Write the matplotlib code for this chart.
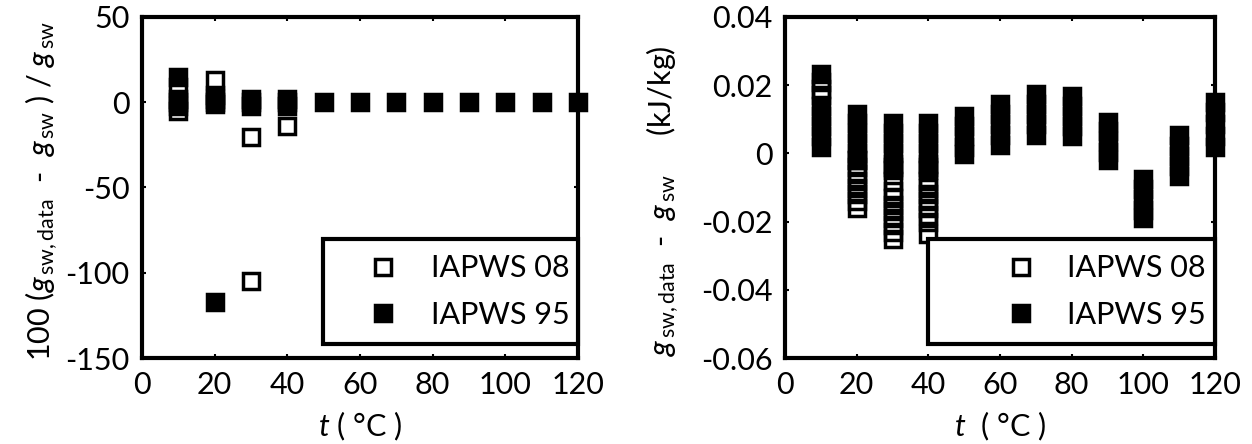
import matplotlib
matplotlib.use("Agg")
import matplotlib.pyplot as plt
import numpy as np

plt.rcParams['font.family'] = ['Lato', 'DejaVu Sans']
plt.rcParams['mathtext.fontset'] = 'custom'
plt.rcParams['mathtext.it'] = 'Lato:italic'
plt.rcParams['mathtext.rm'] = 'Lato'
plt.rcParams['axes.unicode_minus'] = False

# ---------------- data: left panel (percent deviation) ----------------
t08_left = [10, 10, 20, 20, 30, 30, 40]
v08_left = [9, -5, 13, 4, -20.5, -105, -14]
t95_left = [10, 10, 10, 10, 20, 20, 20, 20, 30, 30, 30, 40, 40, 40,
            50, 60, 70, 80, 90, 100, 110, 120]
v95_left = [15, 2, 0, -2, 2, 0, -1, -117, 2, 0, -2, 2, 0, -2,
            0, 0, 0, 0, 0, 0, 0, 0]

# ---------------- data: right panel (absolute deviation, kJ/kg) ----------------
t08_right = [10, 10, 10,
             20, 20, 20, 20, 20, 20, 20, 20,
             30, 30, 30, 30, 30, 30, 30, 30, 30, 30,
             40, 40, 40, 40, 40, 40, 40, 40, 40]
v08_right = [0.021, 0.019, 0.017,
             -0.002, -0.004, -0.006, -0.008, -0.010, -0.012, -0.014, -0.016,
             -0.004, -0.008, -0.011, -0.013, -0.015, -0.017, -0.019, -0.021, -0.023, -0.025,
             -0.004, -0.008, -0.010, -0.012, -0.014, -0.016, -0.018, -0.020, -0.0235]
t95_right = [10, 10, 10, 10, 10, 10,
             20, 20, 20, 20, 20, 20,
             30, 30, 30, 30, 30, 30,
             40, 40, 40, 40, 40, 40,
             50, 50, 50, 50, 50,
             60, 60, 60, 60, 60,
             70, 70, 70, 70, 70,
             80, 80, 80, 80, 80,
             90, 90, 90, 90, 90,
             100, 100, 100, 100, 100,
             110, 110, 110, 110, 110,
             120, 120, 120, 120, 120]
v95_right = [0.0234, 0.014, 0.011, 0.008, 0.005, 0.002,
             0.0117, 0.009, 0.006, 0.003, 0.0, -0.002,
             0.0088, 0.006, 0.003, 0.0, -0.003, -0.005,
             0.0088, 0.006, 0.003, 0.0, -0.003, -0.005,
             0.011, 0.008, 0.005, 0.002, -0.0003,
             0.0146, 0.0115, 0.0085, 0.0055, 0.0026,
             0.0175, 0.0145, 0.0115, 0.0085, 0.0055,
             0.0169, 0.014, 0.011, 0.008, 0.005,
             0.0093, 0.0065, 0.0035, 0.0005, -0.002,
             -0.0076, -0.0105, -0.0135, -0.0165, -0.019,
             0.0053, 0.0023, -0.0007, -0.0037, -0.0067,
             0.0152, 0.012, 0.0085, 0.005, 0.002]

xticks = [0, 20, 40, 60, 80, 100, 120]
yticks_left = [-150, -100, -50, 0, 50]
yticks_right = [-0.06, -0.04, -0.02, 0, 0.02, 0.04]
yticklabels_right = ['-0.06', '-0.04', '-0.02', '0', '0.02', '0.04']
labels = ['IAPWS 08', 'IAPWS 95']

W, H = 1252, 444
fig = plt.figure(figsize=(W / 100, H / 100), dpi=100)

ax1 = fig.add_axes([142 / W, (H - 358) / H, 436 / W, 341 / H])
ax2 = fig.add_axes([785 / W, (H - 358) / H, 430 / W, 341 / H])

MS = 11.5
MEW = 2.5
FS = 22

def style(ax):
    for s in ax.spines.values():
        s.set_linewidth(3.0)
    ax.tick_params(direction='in', length=3, width=1.5, top=True, right=True,
                   labelsize=FS, pad=9)
    ax.set_xlim(0, 120)
    ax.set_xticks(xticks)

def draw(ax, t95, v95, t08, v08, legend_x, handlelen, htp):
    h95, = ax.plot(t95, v95, linestyle='none', marker='s', ms=MS, mew=MEW,
                   mfc='black', mec='black', clip_on=False, zorder=3)
    h08, = ax.plot(t08, v08, linestyle='none', marker='s', ms=MS, mew=MEW,
                   mfc='none', mec='black', clip_on=False, zorder=4)
    leg = ax.legend([h08, h95], labels, loc='lower left',
                    bbox_to_anchor=(legend_x, 0.041, 1 - legend_x, 0.308),
                    mode='expand', borderaxespad=0, fontsize=FS, fancybox=False,
                    framealpha=1, edgecolor='black', handlelength=handlelen,
                    handletextpad=htp, borderpad=0.5, labelspacing=0.6,
                    numpoints=1)
    leg.get_frame().set_linewidth(3.0)
    leg.set_zorder(5)

style(ax1)
draw(ax1, t95_left, v95_left, t08_left, v08_left, 0.415, 2.9, 0.15)
ax1.set_ylim(-150, 50)
ax1.set_yticks(yticks_left)
ax1.set_ylabel(r'100 ($g_{\,\mathrm{sw,data}}$  -  $g_{\,\mathrm{sw}}$ ) / $g_{\,\mathrm{sw}}$',
               fontsize=FS, labelpad=4, y=0.49)
ax1.set_xlabel(r'$t$ ( °C )', fontsize=FS, labelpad=8)

style(ax2)
draw(ax2, t95_right, v95_right, t08_right, v08_right, 0.333, 5.1, -1.05)
ax2.set_ylim(-0.06, 0.04)
ax2.set_yticks(yticks_right)
ax2.set_yticklabels(yticklabels_right)
ax2.set_ylabel(r'$g_{\,\mathrm{sw,data}}$  -  $g_{\,\mathrm{sw}}$     (kJ/kg)',
               fontsize=FS, labelpad=14, y=0.46)
ax2.set_xlabel(r'$t$  ( °C )', fontsize=FS, labelpad=8)

fig.savefig('out.png', dpi=100)
